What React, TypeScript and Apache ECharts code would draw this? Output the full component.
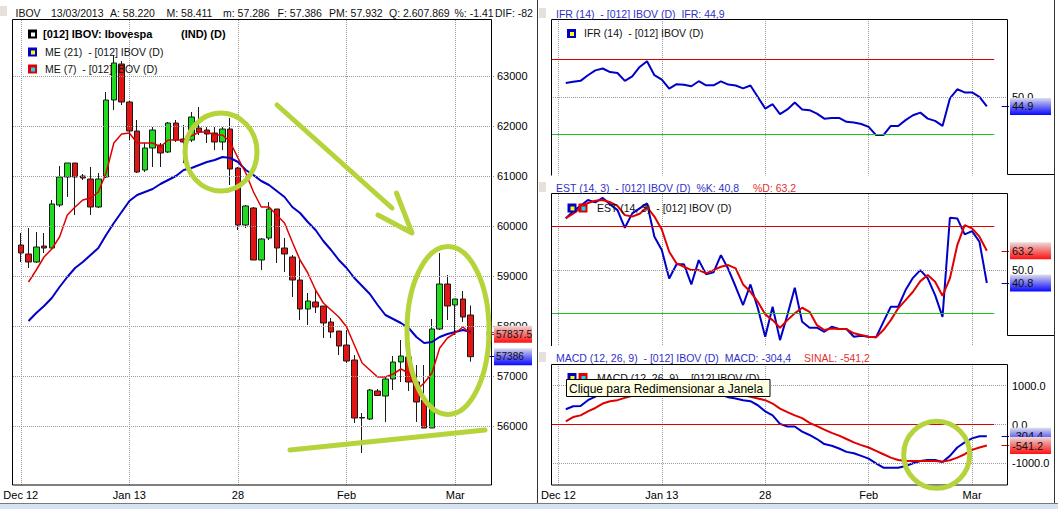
import React, { useEffect, useRef } from 'react';
import * as echarts from 'echarts';

// ---------- data ----------
const dates = ['12/12/2012','13/12/2012','14/12/2012','17/12/2012','18/12/2012','19/12/2012','20/12/2012','21/12/2012','26/12/2012','27/12/2012','28/12/2012','02/01/2013','03/01/2013','04/01/2013','07/01/2013','08/01/2013','09/01/2013','10/01/2013','11/01/2013','14/01/2013','15/01/2013','16/01/2013','17/01/2013','18/01/2013','21/01/2013','22/01/2013','23/01/2013','24/01/2013','28/01/2013','29/01/2013','30/01/2013','31/01/2013','01/02/2013','04/02/2013','05/02/2013','06/02/2013','07/02/2013','08/02/2013','13/02/2013','14/02/2013','15/02/2013','18/02/2013','19/02/2013','20/02/2013','21/02/2013','22/02/2013','25/02/2013','26/02/2013','27/02/2013','28/02/2013','01/03/2013','04/03/2013','05/03/2013','06/03/2013','07/03/2013','08/03/2013','11/03/2013','12/03/2013','13/03/2013'];

const opens = [59620,59440,59280,59600,59560,60420,60980,61260,61000,60940,60380,60980,62520,63240,62480,61900,61120,61560,61620,61480,62060,61740,61720,61960,61920,61860,61680,61940,61160,60020,60360,59320,59760,60340,59560,59380,58920,58340,58480,58400,58080,57900,57620,57320,56160,56140,56700,56600,56940,57280,57380,56880,56520,55960,57940,58840,58420,58540,58220];
const highs = [59860,59960,59880,59860,60520,61200,61260,61260,61040,61180,61060,62680,63420,63300,62500,62120,61660,61980,61660,62080,62120,62020,62280,62380,61980,61980,61980,62160,61180,60420,60380,59760,60480,60340,59760,59420,59320,58660,58740,58400,58160,57900,57920,57420,56260,56740,56740,56980,57400,57720,57760,57220,57220,58140,59460,59020,58540,58700,58411];
const lows = [59280,59160,59260,59460,59520,60380,60580,60220,60920,60220,60360,60960,62320,62420,61720,61060,61080,61180,61180,61460,61680,61260,61680,61820,61660,61520,61520,60820,59920,59960,59320,59120,59720,59260,59080,58580,58120,58020,58260,57760,57760,57420,57260,56060,55460,56120,56600,56080,56720,56880,56700,56080,55960,55960,57920,58120,57820,58080,57286];
const closes = [59460,59280,59580,59560,60440,60980,61260,60980,60960,60380,60940,62520,63260,62480,61900,61080,61560,61920,61460,62060,61720,61680,62180,61880,61840,61680,61940,61140,60020,60400,59320,59740,60340,59560,59440,58920,58340,58500,58380,58060,57880,57600,57300,56160,56170,56720,56610,56940,57280,57400,56880,56480,55960,57940,58840,58400,58540,58180,57386];

const ma21 = [null,58100,58260,58400,58560,58780,58980,59160,59280,59420,59560,59820,60060,60280,60500,60620,60680,60740,60840,60920,61000,61120,61160,61220,61280,61320,61380,61360,61280,61120,61020,60900,60820,60700,60580,60380,60260,60080,59920,59700,59520,59320,59160,58960,58800,58640,58420,58220,58140,58060,57960,57780,57660,57680,57780,57840,57880,57920,57880];
const ma7 = [null,58880,59120,59380,59540,59780,60220,60380,60520,60560,60680,61060,61660,61840,61860,61660,61660,61660,61580,61720,61720,61720,61800,61880,61880,61820,61820,61680,61360,61060,60680,60380,60380,60220,60060,59680,59320,59060,58720,58460,58320,58180,57980,57620,57260,57120,56980,56980,57040,57140,57060,56720,56860,57060,57560,57760,57860,57980,57837.5];

const ifr = [null,57.4,58.1,58.6,61.6,64.2,65.2,63.3,62.8,58.6,61.0,66.0,69.1,61.6,59.3,54.4,56.8,56.5,55.7,58.4,56.2,56.2,58.3,56.6,56.1,54.6,56.1,50.0,43.8,46.1,40.8,43.3,47.0,43.3,42.9,41.1,38.4,38.7,38.8,36.7,36.3,35.5,34.0,29.6,29.6,34.5,34.5,37.6,40.2,41.6,38.4,37.2,34.5,49.2,54.1,52.4,52.4,50.0,44.9];
const estK = [null,85.7,90.8,94.5,98.5,96.9,100,95.5,91.5,79.2,89.2,92.7,96.2,73,63.7,44,53.8,53.8,39.8,56.7,46.8,48.2,60.2,50.5,38.2,25.5,39.8,23.2,3.4,24.3,1.1,18.5,37.5,13.8,9.7,9.7,6.9,10.4,8.8,8.8,3.4,4.1,3.4,3.0,13.8,24.3,24.3,35.9,44.4,49.8,44,32.4,17.3,86.2,85.7,74.6,76.9,69.5,40.8];
const estD = [null,86,89,93,96.5,98,98.5,97,94.5,88,87,89,93.5,87,78,62.5,54.4,52.1,49.8,49.8,47.5,49.8,52.1,53.3,51,39.8,34.7,27.7,19,15,9.7,15,19.7,23.6,20.8,11.5,8.1,9.2,8.8,8.8,5.8,4.6,3.4,3.0,8.1,15,23.2,28.9,34.7,42.1,46.3,41.7,31.9,44,67.2,81.1,78.8,73,63.2];
const macd = [null,392,470,478,627,720,820,900,950,980,1020,1060,1100,1120,1120,1100,1080,1060,1040,1010,980,900,780,700,670,627,600,496,339,235,17,-52,-52,-183,-270,-374,-504,-548,-618,-705,-740,-809,-879,-1000,-1114,-1114,-1114,-1070,-1000,-940,-914,-914,-966,-809,-592,-462,-357,-305,-304.4];
const sinal = [null,78,191,235,339,426,540,600,627,687,739,790,840,880,910,930,940,945,945,940,930,910,880,840,800,757,713,670,627,540,409,321,235,165,44,-44,-131,-217,-287,-374,-462,-531,-592,-679,-766,-853,-914,-940,-940,-940,-940,-940,-957,-922,-853,-766,-653,-592,-541.2];

const xTickBars = [0, 14, 28, 42, 56];
const xTickLabels = ['Dec 12', 'Jan 13', '28', 'Feb', 'Mar'];
const priceTicks = [56000, 57000, 58000, 59000, 60000, 61000, 62000, 63000];
const macdTicks = [1000, 0, -1000];
const macdTickLabels = ['1000.0', '0.0', '-1000.0'];

const headerItems: [string, number][] = [
  ['IBOV', 15.5], ['13/03/2013', 51], ['A: 58.220', 110], ['M: 58.411', 166.5], ['m: 57.286', 223],
  ['F: 57.386', 277.6], ['PM: 57.932', 329], ['Q: 2.607.869', 389], ['%: -1.41', 454.5], ['DIF: -82', 495],
];

// ---------- helpers ----------
const FONT = '"Liberation Sans", Arial, Helvetica, sans-serif';
const cats = ['', ...dates, '', '', ''];
const pad = (a: any[]) => [null, ...a, null, null, null];
const candleData = ['-', ...dates.map((_, i) => [opens[i], closes[i], lows[i], highs[i]]), '-', '-', '-'];
const isTick = (idx: number) => xTickBars.indexOf(idx - 1) >= 0;
const tickFmt = (_v: string, idx: number) => {
  const k = xTickBars.indexOf(idx - 1);
  return k >= 0 ? xTickLabels[k] : '';
};
const dotted = { type: 'dotted', color: '#9a9a9a', width: 1 };
const BLUE = '#0000c8';
const RED = '#e00000';
const HEAD_BLUE = '#3030c8';
const HEAD_RED = '#e03030';
const ANNOT = '#b5d43b';

const grad = (top: string, mid: string, bottom: string) => ({
  type: 'linear', x: 0, y: 0, x2: 0, y2: 1,
  colorStops: [{ offset: 0, color: top }, { offset: 0.3, color: mid }, { offset: 1, color: bottom }],
});
const BG_BLUE = grad('#dedeea', '#9a9af0', '#0808ff');
const BG_RED = grad('#eedada', '#f09a9a', '#ff1010');

const tag = (v: number, text: string | null, color: string, bg: any, w: number, dist: number, size = 11) => [
  { coord: [61, v], lineStyle: { color, width: 1, type: 'solid' } },
  {
    coord: [62, v],
    label: text === null ? { show: false } : {
      show: true, position: 'end', distance: dist, formatter: text, backgroundColor: bg,
      color: '#101010', fontSize: size, fontFamily: FONT, padding: [3, 2, 2, 2], width: w, height: 12, lineHeight: 12,
    },
  },
];
const level = (v: number, color: string) => [
  { coord: [0, v], lineStyle: { color, width: 1, type: 'solid' }, label: { show: false } },
  { coord: [60, v] },
];
const gridLines = (vals: number[], labels: string[]) =>
  vals.map((v, i) => ({ yAxis: v, label: { formatter: labels[i] } }));

const decoSeries = (gi: number, data: any[], dist: number) => ({
  type: 'line', xAxisIndex: gi, yAxisIndex: gi, data: [], silent: true, z: 1,
  markLine: {
    silent: true, symbol: 'none', animation: false,
    lineStyle: dotted,
    label: { show: true, position: 'end', distance: dist, color: '#000', fontSize: 11, fontFamily: FONT },
    data,
  },
});
const tagSeries = (gi: number, data: any[]) => ({
  type: 'line', xAxisIndex: gi, yAxisIndex: gi, data: [], silent: true, z: 6,
  markLine: { silent: true, symbol: ['none', 'arrow'], symbolSize: [0, 7], animation: false, data },
});
const lineSeries = (gi: number, data: any[], color: string, width: number) => ({
  type: 'line', xAxisIndex: gi, yAxisIndex: gi, data: pad(data), showSymbol: false, symbol: 'none',
  connectNulls: false, silent: true, z: 3, lineStyle: { color, width }, itemStyle: { color },
});

const txt = (x: number, y: number, text: string, fill = '#000', size = 11, weight = 'normal', z = 100) => ({
  type: 'text', x, y, z, silent: true,
  style: {
    text, fill, font: `${weight} ${size}px ${FONT}`,
    textAlign: 'left', textVerticalAlign: 'middle', align: 'left', verticalAlign: 'middle',
  },
});
const rect = (x: number, y: number, w: number, h: number, fill: string, stroke?: string, z = 100) => ({
  type: 'rect', z, silent: true, shape: { x, y, width: w, height: h },
  style: { fill, stroke: stroke || 'none', lineWidth: 1 },
});
const icon = (x: number, y: number, outer: string, inner: string) => [
  rect(x, y, 9, 9, outer, undefined, 101),
  rect(x + 3, y + 3, 4, 4, inner, undefined, 102),
];
const pline = (pts: number[][], stroke: string, w = 1, z = 60) => ({
  type: 'polyline', z, silent: true, shape: { points: pts }, style: { fill: 'none', stroke, lineWidth: w },
});

export default function App() {
  const ref = useRef<HTMLDivElement>(null);
  useEffect(() => {
    if (!ref.current) return;
    const chart = echarts.init(ref.current, null, { renderer: 'svg' });

    const grids = [
      { left: 13, top: 20, width: 481, height: 465 },
      { left: 551, top: 19, width: 458, height: 161 },
      { left: 551, top: 194, width: 458, height: 152 },
      { left: 551, top: 364, width: 458, height: 121 },
    ].map((g) => ({ ...g, show: false, containLabel: false, outerBoundsMode: 'none' }));

    const xAxis = [0, 1, 2, 3].map((i) => ({
      type: 'category', gridIndex: i, data: cats, boundaryGap: false,
      axisLine: { show: false }, axisTick: { show: false },
      splitLine: { show: true, interval: (idx: number) => isTick(idx), lineStyle: dotted },
      axisLabel: {
        show: i === 0 || i === 3, interval: (idx: number) => isTick(idx), formatter: tickFmt,
        color: '#000', fontSize: 11, fontFamily: FONT, margin: 4,
      },
    }));
    const yRanges = [[54820, 64120], [5.6, 91.65], [-3.0, 102.7], [-1559, 1559]];
    const yAxis = yRanges.map((r, i) => ({
      type: 'value', gridIndex: i, min: r[0], max: r[1], show: false, scale: true,
    }));

    const series: any[] = [
      // main panel
      decoSeries(0, gridLines(priceTicks, priceTicks.map(String)), 3),
      {
        type: 'candlestick', xAxisIndex: 0, yAxisIndex: 0, data: candleData, barWidth: 6, silent: true, z: 2,
        itemStyle: { color: '#1fdc1f', color0: '#e31414', borderColor: '#1a1a1a', borderColor0: '#1a1a1a', borderWidth: 1 },
      },
      lineSeries(0, ma21, BLUE, 2),
      lineSeries(0, ma7, RED, 1.5),
      tagSeries(0, [
        tag(ma21[58] as number, null, '#6060a0', null, 34, 0, 10),
        tag(ma7[58] as number, '57837.5', RED, BG_RED, 34, 0, 10),
        tag(closes[58], '57386', BLUE, BG_BLUE, 34, 0, 10),
      ]),
      // IFR
      decoSeries(1, [...gridLines([50], ['50.0']), level(70, '#dd0000'), level(30, '#22c022')], 3),
      lineSeries(1, ifr, BLUE, 2),
      tagSeries(1, [tag(44.9, '44.9', BLUE, BG_BLUE, 37, 1)]),
      // EST
      decoSeries(2, [...gridLines([50], ['50.0']), level(80, '#dd0000'), level(20, '#22c022')], 3),
      lineSeries(2, estK, BLUE, 2),
      lineSeries(2, estD, RED, 2),
      tagSeries(2, [tag(63.2, '63.2', RED, BG_RED, 37, 1), tag(40.8, '40.8', BLUE, BG_BLUE, 37, 1)]),
      // MACD
      decoSeries(3, [...gridLines(macdTicks, macdTickLabels), level(0, '#dd0000')], 3),
      lineSeries(3, macd, BLUE, 2),
      lineSeries(3, sinal, RED, 2),
      tagSeries(3, [tag(-304.4, '-304.4', BLUE, BG_BLUE, 37, 1), tag(-541.2, '-541.2', RED, BG_RED, 37, 1)]),
    ];

    const elements: any[] = [
      // window covers (right windows overlap)
      rect(538, 175.5, 516, 18.5, '#ffffff', undefined, 50),
      rect(538, 346, 516, 18, '#ffffff', undefined, 50),
      // frames
      { type: 'rect', z: 60, silent: true, shape: { x: 12.5, y: 19.5, width: 479, height: 465.5 }, style: { fill: 'none', stroke: '#000', lineWidth: 1 } },
      pline([[551.5, 175.5], [551.5, 19.5], [1007.5, 19.5], [1007.5, 174.5], [1054, 174.5]], '#000'),
      pline([[551.5, 346], [551.5, 193.5], [1007.5, 193.5], [1007.5, 335.5], [1054, 335.5]], '#000'),
      { type: 'rect', z: 60, silent: true, shape: { x: 551.5, y: 364.5, width: 456, height: 120.5 }, style: { fill: 'none', stroke: '#000', lineWidth: 1 } },
      pline([[537.5, 0], [537.5, 503.5]], '#333'),
      pline([[1054.5, 0], [1054.5, 503.5]], '#333'),
      pline([[0, 503.5], [1058, 503.5]], '#7a7a7a'),
      rect(0, 504, 1058, 5, '#d6e3f3', undefined, 60),
      // header squares
      rect(0, 6, 7, 10, '#e6e0da', undefined, 100),
      rect(539, 8, 7, 10, '#e6e0da', undefined, 100),
      rect(539, 182, 7, 10, '#e6e0da', undefined, 100),
      rect(539, 352, 7, 10, '#e6e0da', undefined, 100),
      // main header
      ...headerItems.map(([t, x]) => txt(x, 13, t, '#111', 10.5)),
      // main legend
      ...icon(28, 29.5, '#000000', '#ffffff'),
      txt(43, 34, '[012] IBOV: Ibovespa', '#000', 11, 'bold'),
      txt(181, 34, '(IND) (D)', '#000', 11, 'bold'),
      ...icon(28, 47.5, BLUE, '#ffff00'),
      txt(45, 52, 'ME (21)  - [012] IBOV (D)', '#111', 10.5),
      ...icon(28, 64.5, RED, '#00e0ff'),
      txt(45, 69, 'ME (7)  - [012] IBOV (D)', '#111', 10.5),
      // IFR header + legend
      txt(556, 13.5, 'IFR (14)  - [012] IBOV (D)  IFR: 44,9', HEAD_BLUE, 10.5),
      ...icon(567, 29, BLUE, '#ffff00'),
      txt(584, 33, 'IFR (14)  - [012] IBOV (D)', '#111', 10.5),
      // EST header + legend
      txt(556, 188, 'EST (14, 3)  - [012] IBOV (D)  %K: 40,8', HEAD_BLUE, 10.5),
      txt(753, 188, '%D: 63,2', HEAD_RED, 10.5),
      ...icon(567.5, 203.5, BLUE, '#ffff00'),
      ...icon(578.5, 203.5, RED, '#00e0ff'),
      txt(597, 208, 'EST (14, 3)  - [012] IBOV (D)', '#111', 10.5),
      // MACD header + legend
      txt(556, 358, 'MACD (12, 26, 9)  - [012] IBOV (D)  MACD: -304,4', HEAD_BLUE, 10.5),
      txt(804, 358, 'SINAL: -541,2', HEAD_RED, 10.5),
      ...icon(567.5, 373, BLUE, '#ffff00'),
      ...icon(578.5, 373, RED, '#00e0ff'),
      txt(597, 377.5, 'MACD (12, 26, 9)  - [012] IBOV (D)', '#111', 10.5),
      // tooltip
      rect(566.5, 379.5, 203.5, 17, '#ffffe1', '#000', 110),
      txt(569, 388.5, 'Clique para Redimensionar a Janela', '#000', 12, 'normal', 111),
      // annotations
      { type: 'ellipse', z: 120, silent: true, shape: { cx: 221, cy: 152, rx: 36, ry: 39 }, style: { fill: 'none', stroke: ANNOT, lineWidth: 5 } },
      { type: 'line', z: 120, silent: true, shape: { x1: 277, y1: 105, x2: 392, y2: 208 }, style: { stroke: ANNOT, lineWidth: 5, lineCap: 'round' } },
      { type: 'polyline', z: 120, silent: true, shape: { points: [[378, 215], [412, 233], [396.5, 193]] }, style: { fill: 'none', stroke: ANNOT, lineWidth: 5, lineCap: 'round', lineJoin: 'round' } },
      { type: 'ellipse', z: 120, silent: true, shape: { cx: 448, cy: 330.5, rx: 41, ry: 84 }, style: { fill: 'none', stroke: ANNOT, lineWidth: 5 } },
      { type: 'line', z: 120, silent: true, shape: { x1: 290, y1: 450, x2: 485, y2: 430 }, style: { stroke: ANNOT, lineWidth: 5, lineCap: 'round' } },
      { type: 'ellipse', z: 120, silent: true, shape: { cx: 936.7, cy: 454.7, rx: 33, ry: 33.5 }, style: { fill: 'none', stroke: ANNOT, lineWidth: 5 } },
    ];

    chart.setOption({
      animation: false,
      backgroundColor: '#ffffff',
      textStyle: { fontFamily: FONT },
      grid: grids,
      xAxis,
      yAxis,
      series,
      graphic: { elements },
    });
    return () => chart.dispose();
  }, []);
  return <div ref={ref} style={{ position: 'fixed', left: 0, top: 0, width: 1058, height: 509 }} />;
}
